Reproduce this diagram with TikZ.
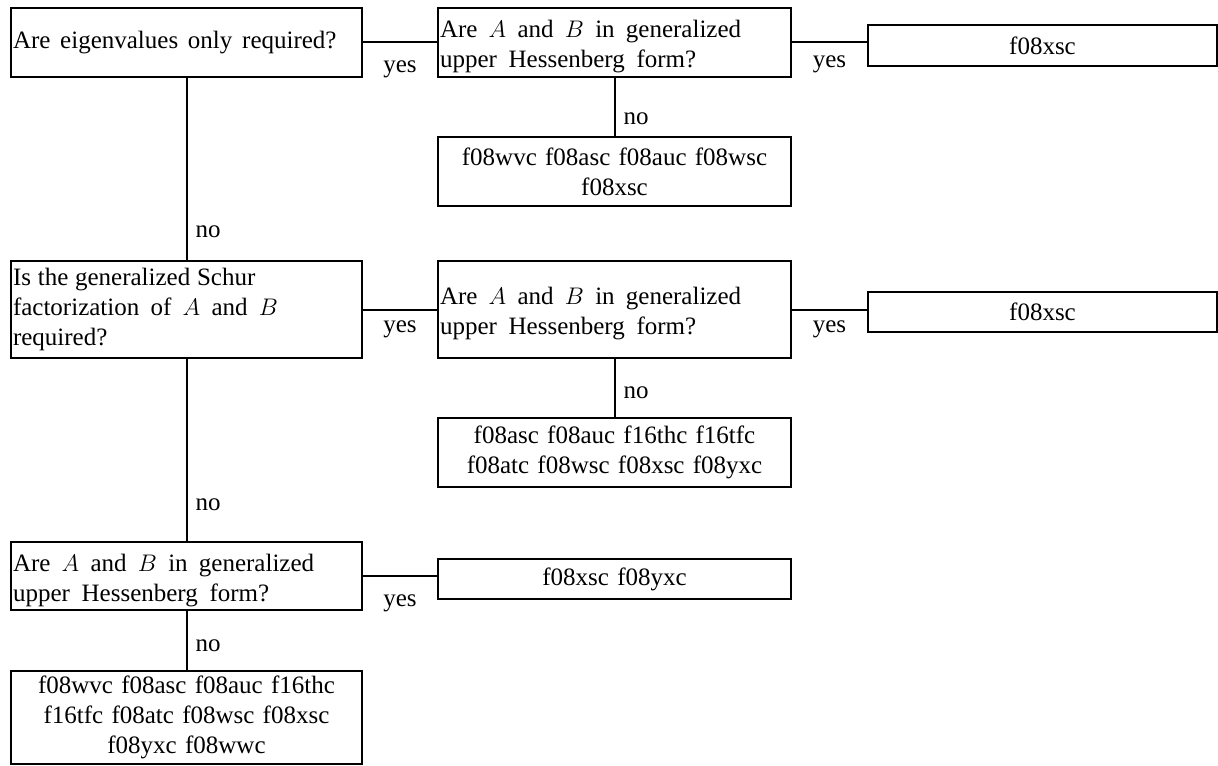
\documentclass[tikz,border=0pt]{standalone}
\usepackage{fontspec}
\setmainfont{Liberation Serif}
% body text size
\newcommand\diagfont{\fontsize{12.5}{15}\selectfont}
% routine lists: same size, slightly wider word space
\newcommand\routinefont{\fontsize{12.5}{15}\selectfont\spaceskip=0.33em\relax}
% one line of text set with a given word space
\newcommand\spaced[2]{{\spaceskip=#1\relax #2}}
% raises the top of a two-line question so its text sits a little lower
\newcommand\topstrut{\rule{0pt}{13.1pt}}
\begin{document}
\begin{tikzpicture}[x=1pt,y=1pt,
  box/.style={draw, line width=1pt, inner xsep=1pt, inner ysep=0pt, font=\diagfont},
  qbox/.style={box, align=left},
  rbox/.style={box, align=center, font=\routinefont},
  link/.style={line width=1pt},
  yeslbl/.style={anchor=base, inner sep=0pt, font=\diagfont},
  nolbl/.style={anchor=base west, inner sep=0pt, xshift=4pt, yshift=-1.75pt, font=\diagfont}]
\useasboundingbox (0,0) rectangle (609,-382.5);

% questions (left column and middle column)
\node[qbox, minimum width=175.5pt, text width=173.5pt, minimum height=34.5pt] (q1) at (93.25,-21.25)
  {\spaced{0.39em}{Are eigenvalues only required?}};
\node[qbox, minimum width=176.5pt, text width=174.5pt, minimum height=34.5pt] (q2) at (307.25,-21.25)
  {\topstrut\spaced{0.45em}{Are $A$ and $B$ in generalized}\\\spaced{0.47em}{upper Hessenberg form?}};
\node[qbox, minimum width=175.5pt, text width=173.5pt, minimum height=48.5pt] (q3) at (93.25,-154.75)
  {\spaced{0.27em}{Is the generalized Schur}\\\spaced{0.45em}{factorization of $A$ and $B$}\\required?};
\node[qbox, minimum width=176.5pt, text width=174.5pt, minimum height=48.5pt] (q4) at (307.25,-154.75)
  {\topstrut\spaced{0.45em}{Are $A$ and $B$ in generalized}\\\spaced{0.47em}{upper Hessenberg form?}};
\node[qbox, minimum width=175.5pt, text width=173.5pt, minimum height=34pt] (q5) at (93.25,-288)
  {\topstrut\spaced{0.45em}{Are $A$ and $B$ in generalized}\\\spaced{0.47em}{upper Hessenberg form?}};

% routine lists
\node[rbox, minimum width=174.5pt, minimum height=20.5pt] (r0) at (521.25,-22.75) {f08xsc};
\node[rbox, minimum width=176.5pt, minimum height=34.5pt] (r1) at (307.25,-85.75)
  {f08wvc f08asc f08auc f08wsc\\f08xsc};
\node[rbox, minimum width=174.5pt, minimum height=20pt] (r3) at (521.25,-156) {f08xsc};
\node[rbox, minimum width=176.5pt, minimum height=34.5pt] (r2) at (307.25,-226.25)
  {f08asc f08auc f16thc f16tfc\\f08atc f08wsc f08xsc f08yxc};
\node[rbox, minimum width=176.5pt, minimum height=20pt] (r5) at (307.25,-289.5) {f08xsc f08yxc};
\node[rbox, minimum width=175.5pt, minimum height=46.5pt] (r4) at (93.25,-358.75)
  {f08wvc f08asc f08auc f16thc\\f16tfc f08atc f08wsc f08xsc\\f08yxc f08wwc};

% yes branches
\draw[link] (q1.east) -- node[yeslbl, yshift=-15pt] {yes} (q1.east -| q2.west);
\draw[link] (q2.east) -- node[yeslbl, yshift=-12.5pt] {yes} (q2.east -| r0.west);
\draw[link] (q3.east) -- node[yeslbl, yshift=-11.3pt] {yes} (q3.east -| q4.west);
\draw[link] (q4.east) -- node[yeslbl, yshift=-11.3pt] {yes} (q4.east -| r3.west);
\draw[link] (q5.east) -- node[yeslbl, yshift=-15.3pt] {yes} (q5.east -| r5.west);

% no branches
\draw[link] (q1.south) -- node[nolbl, pos=0.859] {no} (q3.north);
\draw[link] (q2.south) -- node[nolbl, pos=0.743] {no} (r1.north);
\draw[link] (q3.south) -- node[nolbl, pos=0.815] {no} (q5.north);
\draw[link] (q4.south) -- node[nolbl, pos=0.627] {no} (r2.north);
\draw[link] (q5.south) -- node[nolbl, pos=0.63] {no} (r4.north);
\end{tikzpicture}
\end{document}
